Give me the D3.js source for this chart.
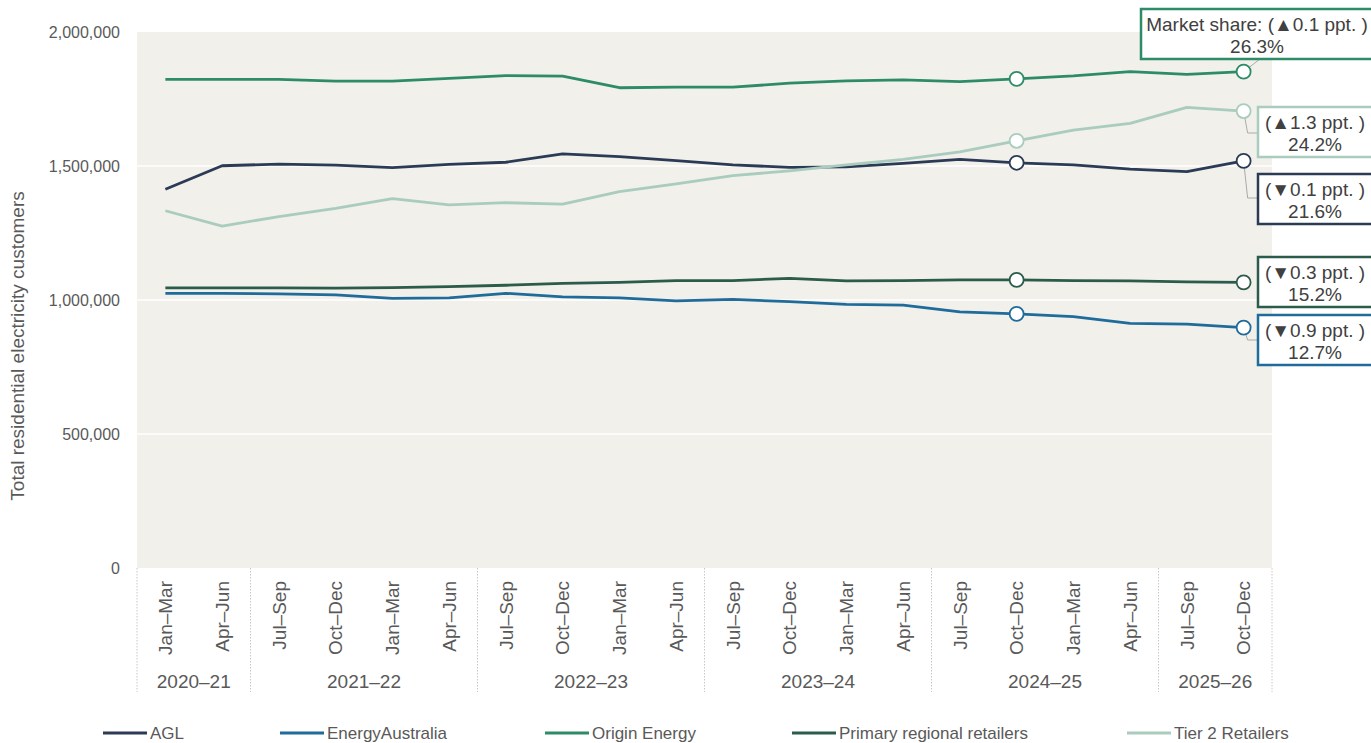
<!DOCTYPE html>
<html>
<head>
<meta charset="utf-8">
<script src="https://cdn.jsdelivr.net/npm/d3@7"></script>
<style>
  body { margin: 0; background: #fff; }
  svg { display: block; font-family: "Liberation Sans", Arial, sans-serif; }
</style>
</head>
<body>
<div id="chart"></div>
<script>
// quarters and their financial years
const quarters = ["Jan–Mar", "Apr–Jun",
  "Jul–Sep", "Oct–Dec", "Jan–Mar", "Apr–Jun",
  "Jul–Sep", "Oct–Dec", "Jan–Mar", "Apr–Jun",
  "Jul–Sep", "Oct–Dec", "Jan–Mar", "Apr–Jun",
  "Jul–Sep", "Oct–Dec", "Jan–Mar", "Apr–Jun",
  "Jul–Sep", "Oct–Dec"];
const years = ["2020–21", "2021–22", "2022–23", "2023–24", "2024–25", "2025–26"];
const yearSizes = [2, 4, 4, 4, 4, 2];

const seriesNames = ["AGL", "EnergyAustralia", "Origin Energy", "Primary regional retailers", "Tier 2 Retailers"];
const seriesColors = ["#2b3a55", "#1f6b9a", "#2e8b68", "#2b5b4b", "#a9ccbe"];

const agl = [1413000, 1501000, 1507000, 1503000, 1494000, 1506000, 1514000, 1545000, 1535000, 1520000,
  1504000, 1495000, 1497000, 1510000, 1525000, 1512000, 1504000, 1488000, 1479000, 1519000];
const energyAustralia = [1025000, 1025000, 1023000, 1019000, 1006000, 1008000, 1025000, 1012000, 1008000, 997000,
  1002000, 994000, 984000, 981000, 956000, 948000, 938000, 913000, 910000, 897000];
const origin = [1823000, 1823000, 1823000, 1817000, 1817000, 1827000, 1837000, 1835000, 1792000, 1794000,
  1794000, 1809000, 1818000, 1821000, 1815000, 1825000, 1836000, 1852000, 1842000, 1852000];
const primaryRegional = [1045000, 1045000, 1045000, 1044000, 1046000, 1050000, 1055000, 1062000, 1066000, 1072000,
  1072000, 1081000, 1071000, 1072000, 1075000, 1075000, 1072000, 1071000, 1068000, 1066000];
const tier2 = [1333000, 1276000, 1311000, 1342000, 1378000, 1355000, 1363000, 1358000, 1404000, 1433000,
  1464000, 1482000, 1504000, 1525000, 1553000, 1594000, 1634000, 1659000, 1719000, 1705000];
const seriesValues = [agl, energyAustralia, origin, primaryRegional, tier2];

// marker positions (quarter index)
const markerIdx = [15, 19];

// annotation texts for the last quarter
const changeLabels = ["(▼0.1 ppt. )", "(▼0.9 ppt. )", "Market share: (▲0.1 ppt. )", "(▼0.3 ppt. )", "(▲1.3 ppt. )"];
const shareLabels = ["21.6%", "12.7%", "26.3%", "15.2%", "24.2%"];

const yTicks = [0, 500000, 1000000, 1500000, 2000000];

const width = 1371, height = 743;
const margin = { left: 137, right: 99, top: 32, bottom: 175 };
const plotW = width - margin.left - margin.right;
const plotBottom = height - margin.bottom;
const textColor = "#595959";

const svg = d3.select("#chart").append("svg")
  .attr("width", width).attr("height", height);

const x = d3.scaleBand().domain(d3.range(quarters.length))
  .range([margin.left, margin.left + plotW]).padding(0);
const cx = i => x(i) + x.bandwidth() / 2;
const y = d3.scaleLinear().domain([0, 2000000]).range([plotBottom, margin.top]);

// plot background
svg.append("rect")
  .attr("x", margin.left).attr("y", margin.top)
  .attr("width", plotW).attr("height", plotBottom - margin.top)
  .attr("fill", "#f1f0eb");

// gridlines
svg.append("g").selectAll("line").data(yTicks.filter(d => d > 0 && d < 2000000)).join("line")
  .attr("x1", margin.left).attr("x2", margin.left + plotW)
  .attr("y1", d => y(d)).attr("y2", d => y(d))
  .attr("stroke", "#fff").attr("stroke-width", 1.5);

// y axis
const yAxis = svg.append("g")
  .attr("transform", `translate(${margin.left - 14},0)`)
  .call(d3.axisLeft(y).tickValues(yTicks).tickFormat(d3.format(",")).tickSize(0));
yAxis.select(".domain").remove();
yAxis.selectAll("text").attr("font-size", 16).attr("fill", textColor)
  .attr("font-family", "'Liberation Sans', Arial, sans-serif");

svg.append("text")
  .attr("transform", `translate(24, 346) rotate(-90)`)
  .attr("text-anchor", "middle")
  .attr("font-size", 19).attr("fill", textColor)
  .text("Total residential electricity customers");

// x axis: quarter labels
const xAxis = svg.append("g")
  .attr("transform", `translate(0,${plotBottom})`)
  .call(d3.axisBottom(x).tickFormat(i => quarters[i]).tickSize(0));
xAxis.select(".domain").remove();
xAxis.selectAll("text")
  .attr("font-size", 19).attr("fill", textColor)
  .attr("font-family", "'Liberation Sans', Arial, sans-serif")
  .attr("text-anchor", "end")
  .attr("transform", "rotate(-90)")
  .attr("x", -13).attr("y", 0).attr("dy", "0.35em");

// year groups
let start = 0;
const bounds = [0];
yearSizes.forEach(n => { start += n; bounds.push(start); });
svg.append("g").selectAll("line").data(bounds).join("line")
  .attr("x1", d => margin.left + d * x.bandwidth())
  .attr("x2", d => margin.left + d * x.bandwidth())
  .attr("y1", plotBottom).attr("y2", 692)
  .attr("stroke", "#c8c8c8").attr("stroke-width", 1).attr("stroke-dasharray", "1.5,1.5");

svg.append("g").selectAll("text").data(years).join("text")
  .attr("x", (d, i) => margin.left + (bounds[i] + bounds[i + 1]) / 2 * x.bandwidth())
  .attr("y", 688)
  .attr("text-anchor", "middle")
  .attr("font-size", 19).attr("fill", textColor)
  .text(d => d);

// lines
const line = d3.line().x((d, i) => cx(i)).y(d => y(d));
svg.append("g").selectAll("path").data(seriesValues).join("path")
  .attr("d", line)
  .attr("fill", "none")
  .attr("stroke", (d, i) => seriesColors[i])
  .attr("stroke-width", 2.8)
  .attr("stroke-linejoin", "round");

// annotation layout (box tops, and elbow y of leader lines)
const boxTop = [174, 315, 9, 257, 107];
const elbowY = [198, 340, null, null, 133];
const boxH = 50;
const last = quarters.length - 1;
const boxLeft = 1258;

// leader lines
seriesValues.forEach((vals, i) => {
  const px = cx(last), py = y(vals[last]);
  if (i === 2) {
    svg.append("line")
      .attr("x1", px).attr("y1", py).attr("x2", 1260).attr("y2", boxTop[i] + boxH)
      .attr("stroke", "#aaa").attr("stroke-width", 1);
  } else if (elbowY[i] !== null) {
    svg.append("polyline")
      .attr("points", `${px},${py} ${px + 4},${elbowY[i]} ${boxLeft},${elbowY[i]}`)
      .attr("fill", "none").attr("stroke", "#aaa").attr("stroke-width", 1);
  }
});

// markers
seriesValues.forEach((vals, i) => {
  svg.append("g").selectAll("circle").data(markerIdx).join("circle")
    .attr("cx", d => cx(d)).attr("cy", d => y(vals[d]))
    .attr("r", 7)
    .attr("fill", "#fff")
    .attr("stroke", seriesColors[i])
    .attr("stroke-width", 1.8);
});

// annotation boxes
seriesValues.forEach((vals, i) => {
  const left = i === 2 ? 1141 : boxLeft;
  const right = width + 2;
  const g = svg.append("g");
  g.append("rect")
    .attr("x", left).attr("y", boxTop[i])
    .attr("width", right - left).attr("height", boxH)
    .attr("fill", "#fff")
    .attr("stroke", seriesColors[i]).attr("stroke-width", 2.5);
  const mid = i === 2 ? 1257 : 1315;
  g.append("text")
    .attr("x", mid).attr("y", boxTop[i] + 22)
    .attr("text-anchor", "middle")
    .attr("font-size", 19).attr("fill", "#404040")
    .text(changeLabels[i]);
  g.append("text")
    .attr("x", mid).attr("y", boxTop[i] + 44)
    .attr("text-anchor", "middle")
    .attr("font-size", 19).attr("fill", "#404040")
    .text(shareLabels[i]);
});

// legend
const legendX = [103, 280, 545, 792, 1127];
const legend = svg.append("g").selectAll("g").data(seriesNames).join("g")
  .attr("transform", (d, i) => `translate(${legendX[i]},733)`);
legend.append("line")
  .attr("x1", 0).attr("x2", 44)
  .attr("stroke", (d, i) => seriesColors[i]).attr("stroke-width", 3);
legend.append("text")
  .attr("x", 47).attr("dy", "0.35em")
  .attr("font-size", 17).attr("fill", textColor)
  .text(d => d);
</script>
</body>
</html>
